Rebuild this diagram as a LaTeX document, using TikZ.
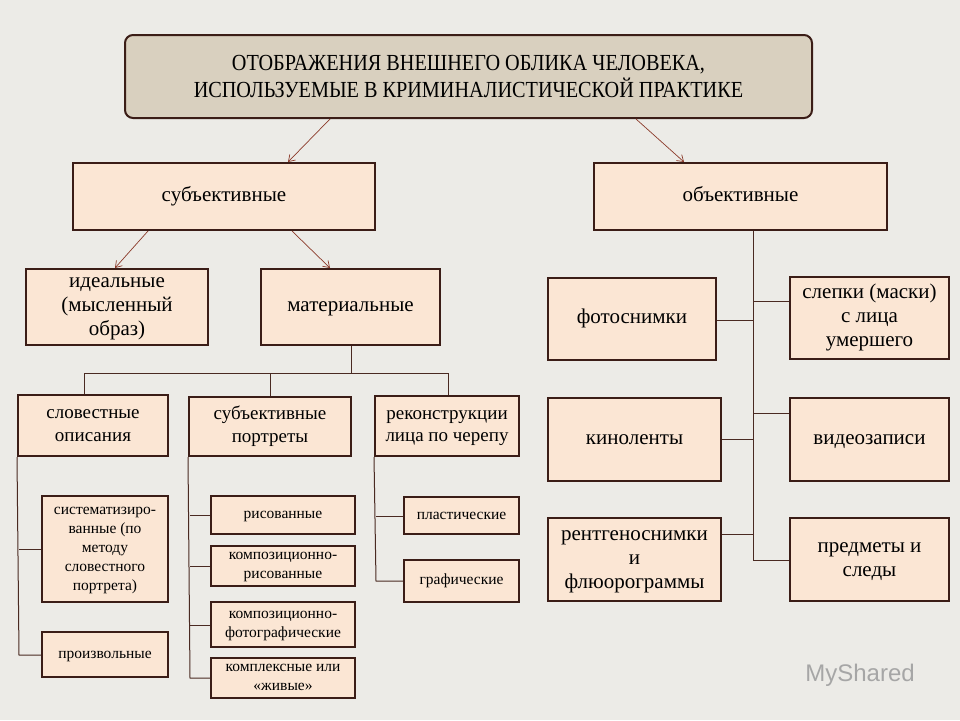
\documentclass[tikz,border=0pt]{standalone}
\usepackage{fontspec}
\setmainfont{Liberation Serif}
\newfontfamily\wmfont{Liberation Sans}
\usetikzlibrary{arrows.meta}
\begin{document}
\begin{tikzpicture}[x=1pt,y=-1pt,
  bx/.style={draw=bord,line width=2pt,fill=boxf,align=center,inner sep=1pt},
  big/.style={font=\fontsize{21}{24}\selectfont},
  mid/.style={font=\fontsize{19}{22.5}\selectfont},
  sm/.style={font=\fontsize{15.5}{19}\selectfont},
  ln/.style={draw=lnc,line width=1pt},
  ar/.style={draw=arc,line width=0.7pt,-{Straight Barb[length=6pt,width=8pt]}}]
\definecolor{bord}{HTML}{3B1D17}
\definecolor{boxf}{HTML}{FBE6D4}
\definecolor{titf}{HTML}{D9D0BF}
\definecolor{lnc}{HTML}{4A2A22}
\definecolor{arc}{HTML}{8B3A2A}
\definecolor{bgc}{HTML}{ECEBE7}
\fill[bgc] (0,0) rectangle (960,720);
\useasboundingbox (0,0) rectangle (960,720);
\newcommand\bxat[7]{\node[bx,#6,minimum width=#3-#1,minimum height=#4-#2] (#5) at ({(#1+#3)/2},{(#2+#4)/2}) {\raisebox{-2.5pt}{\begin{tabular}{@{}c@{}}#7\end{tabular}}};}
\node[draw=bord,line width=2pt,fill=titf,rounded corners=8pt,minimum width=687,minimum height=83,align=center,font=\fontsize{23}{27}\selectfont] (t) at (468.5,76.5) {\addfontfeature{FakeStretch=0.88}ОТОБРАЖЕНИЯ ВНЕШНЕГО ОБЛИКА ЧЕЛОВЕКА,\\\addfontfeature{FakeStretch=0.88}ИСПОЛЬЗУЕМЫЕ В КРИМИНАЛИСТИЧЕСКОЙ ПРАКТИКЕ};
\bxat{73}{163}{375}{230}{s}{big}{субъективные}
\bxat{594}{163}{887}{230}{o}{big}{объективные}
\bxat{26}{269}{208}{345}{id}{big}{идеальные\\(мысленный\\образ)}
\bxat{261}{269}{440}{345}{mat}{big}{материальные}
\bxat{18}{395}{168}{456}{sl}{mid}{словестные\\описания}
\bxat{189}{397}{351}{456}{sp}{mid}{субъективные\\портреты}
\bxat{375}{396}{519}{456}{rk}{mid}{реконструкции\\лица по черепу}
\bxat{42}{496}{168}{602}{sy}{sm}{систематизиро-\\ванные (по\\методу\\словестного\\портрета)}
\bxat{42}{632}{168}{677}{pr}{sm}{произвольные}
\bxat{211}{496}{355}{534}{r1}{sm}{рисованные}
\bxat{211}{547}{355}{584}{r2}{sm}{композиционно-\\рисованные}
\bxat{211}{602}{355}{647}{r3}{sm}{композиционно-\\фотографические}
\bxat{211}{659}{355}{696}{r4}{sm}{комплексные или\\«живые»}
\bxat{404}{497}{519}{534}{p1}{sm}{пластические}
\bxat{404}{560}{519}{602}{p2}{sm}{графические}
\bxat{548}{278}{716}{360}{f}{big}{фотоснимки}
\bxat{790}{277}{949}{359}{m}{big}{слепки (маски)\\с лица\\умершего}
\bxat{548}{398}{721}{481}{k}{big}{киноленты}
\bxat{790}{398}{949}{481}{v}{big}{видеозаписи}
\bxat{548}{518}{721}{601}{x}{big}{рентгеноснимки\\и\\флюорограммы}
\bxat{790}{518}{949}{601}{pd}{big}{предметы и\\следы}
% arrows
\draw[ar] (t.south -| 330,0) -- (288,162);
\draw[ar] (t.south -| 636,0) -- (684,162);
\draw[ar] (s.south -| 148,0) -- (115,268);
\draw[ar] (s.south -| 292,0) -- (330,268);
% materialnye tree
\coordinate (mj) at (351,373);
\draw[ln] (mat.south -| mj) -- (mj);
\draw[ln] (84,373) -- (448,373);
\draw[ln] (84,373) -- (sl.north -| 84,0);
\draw[ln] (270,373) -- (sp.north -| 270,0);
\draw[ln] (448,373) -- (rk.north -| 448,0);
\draw[ln] (sl.south west) -- (19,655) -- (pr.west |- 0,655);
\draw[ln] (19,549) -- (sy.west |- 0,549);
\draw[ln] (sp.south west) -- (190,678) -- (r4.west |- 0,678);
\draw[ln] (190,515) -- (r1.west |- 0,515);
\draw[ln] (190,566) -- (r2.west |- 0,566);
\draw[ln] (190,625) -- (r3.west |- 0,625);
\draw[ln] (rk.south west) -- (376,581) -- (p2.west |- 0,581);
\draw[ln] (376,516) -- (p1.west |- 0,516);
% objective tree
\draw[ln] (o.south -| 753,0) -- (753,560) -- (pd.west |- 0,560);
\draw[ln] (753,301) -- (m.west |- 0,301);
\draw[ln] (753,320) -- (f.east |- 0,320);
\draw[ln] (753,413) -- (v.west |- 0,413);
\draw[ln] (753,439) -- (k.east |- 0,439);
\draw[ln] (753,534) -- (x.east |- 0,534);
\node[text=gray!70,font=\wmfont\fontsize{24}{24}\selectfont] (wm) at (860,675) {MyShared};
\end{tikzpicture}
\end{document}
